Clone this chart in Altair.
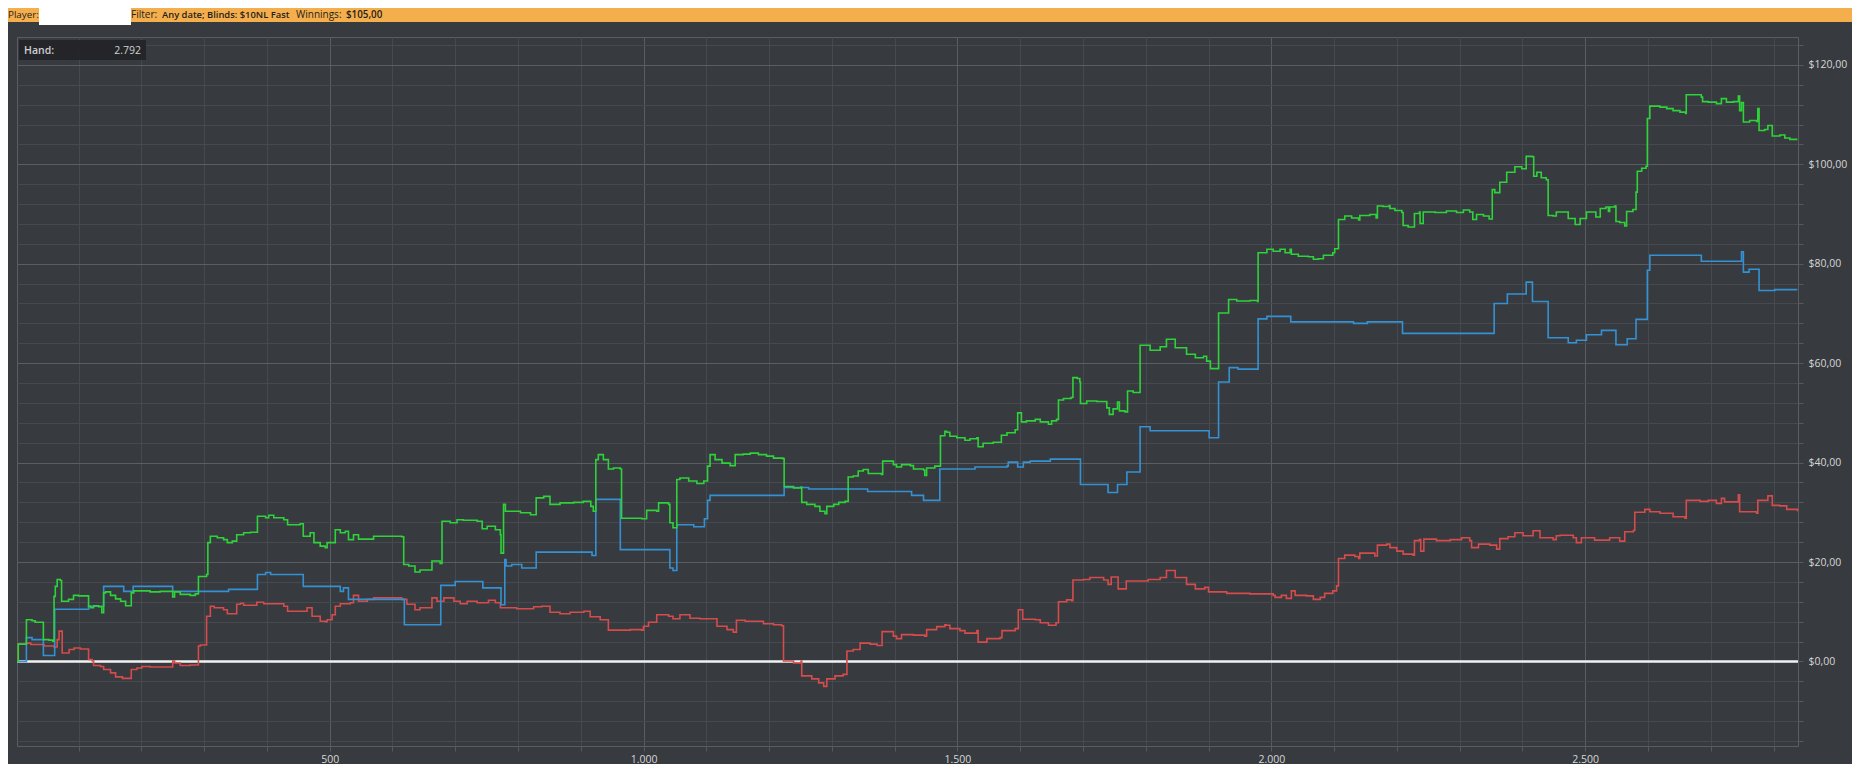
import altair as alt
import pandas as pd

# ---------------- data ----------------
GREEN_HANDS = [2, 4, 17, 26, 31, 44, 53, 59, 61, 63, 66, 71, 73, 84, 92, 100, 116, 119, 124, 132, 137, 140, 143, 151, 159, 167, 175, 184, 188, 214, 230, 250, 253, 262, 278, 286, 291, 304, 306, 310, 321, 331, 337, 345, 352, 363, 374, 385, 398, 403, 411, 427, 433, 453, 458, 469, 475, 485, 493,
               496, 509, 517, 525, 530, 538, 546, 570, 615, 618, 626, 636, 644, 663, 676, 679, 692, 703, 713, 735, 743, 751, 764, 772, 773, 777, 780, 804, 820, 829, 841, 851, 867, 889, 904, 916, 920, 924, 928, 936, 944, 952, 963, 965,
               997, 1005, 1021, 1024, 1040, 1042, 1047, 1053, 1058, 1072, 1085, 1096, 1102, 1106, 1114, 1125, 1138, 1146, 1159, 1170, 1183, 1196, 1207, 1222, 1224, 1239, 1251, 1252, 1260, 1273, 1281, 1289, 1292, 1303, 1311, 1321, 1326, 1334, 1342, 1350, 1358, 1379, 1381, 1398, 1403, 1411, 1425, 1430, 1446, 1448, 1451, 1464, 1473, 1480,
               1483, 1488, 1499, 1512, 1520, 1531, 1533, 1541, 1557, 1570, 1579, 1592, 1596, 1602, 1610, 1624, 1632, 1645, 1650, 1658, 1661, 1669, 1681, 1684, 1691, 1695, 1696, 1706, 1722, 1738, 1742, 1748, 1755, 1758, 1767, 1771, 1780, 1791, 1807, 1823, 1833, 1847, 1865, 1879, 1892, 1897, 1903, 1916, 1932, 1945, 1966, 1978,
               1979, 1993, 2003, 2014, 2022, 2030, 2032, 2043, 2059, 2067, 2075, 2083, 2098, 2101, 2107, 2117, 2128, 2139, 2141, 2157, 2167, 2169, 2178, 2188, 2189, 2197, 2208, 2210, 2218, 2228, 2236, 2237, 2242, 2261, 2279, 2295, 2306, 2316, 2321, 2327, 2338, 2347, 2352, 2356, 2364, 2375, 2388, 2399, 2406, 2416, 2418, 2423, 2430, 2438, 2441, 2449, 2454,
               2460, 2473, 2484, 2492, 2502, 2517, 2524, 2533, 2537, 2539, 2547, 2549, 2555, 2563, 2566, 2576, 2581, 2583, 2590, 2597, 2599, 2603, 2619, 2630, 2640, 2651, 2660, 2661, 2675, 2685, 2687, 2696, 2709, 2717, 2725, 2736, 2744, 2746, 2749, 2752, 2762, 2773, 2775, 2777, 2786, 2791, 2798, 2810, 2818, 2826, 2838]
GREEN_VALUES = [0, 3.5, 8.4, 8.2, 7.9, 4.4, 4.3, 4.1, 13.1, 15.1, 16.5, 16.3, 12.1, 12.5, 13.3, 13.2, 11.1, 10.8, 11.2, 11.0, 9.8, 13.8, 14.0, 13.3, 12.6, 12.1, 11.2, 13.8, 14.2, 14.0, 14.1, 13.0, 14.0, 13.5, 13.3, 13.6, 17.1, 17.5, 23.9, 25.2, 24.9, 24.5, 23.9, 24.2, 25.5, 25.9, 26.0, 29.2, 28.9, 29.4, 28.9, 28.5, 27.5, 27.7, 25.2, 25.9, 23.9, 23.2, 22.9,
                23.9, 26.5, 25.9, 26.2, 24.5, 25.5, 24.6, 25.2, 25.1, 19.5, 19.2, 18.0, 18.4, 20.2, 19.7, 28.2, 27.9, 28.5, 28.4, 28.2, 26.7, 27.2, 26.5, 25.5, 21.8, 31.6, 30.2, 29.9, 29.5, 32.9, 33.2, 31.6, 31.9, 32.0, 32.2, 31.2, 30.2, 40.6, 41.6, 40.6, 38.7, 38.9, 38.7, 28.8,
                28.7, 30.4, 30.2, 31.9, 31.6, 27.9, 26.9, 36.6, 36.9, 36.3, 35.8, 36.3, 39.3, 41.6, 40.6, 39.9, 39.4, 41.6, 41.7, 41.9, 41.6, 41.3, 40.9, 40.8, 35.2, 34.9, 35.1, 32.0, 31.6, 31.2, 30.2, 29.7, 31.2, 31.6, 32.0, 32.2, 37.1, 37.3, 38.3, 38.6, 37.8, 37.6, 40.3, 39.6, 39.1, 39.6, 39.4, 38.7, 38.5, 37.4, 38.9, 39.3, 45.4, 46.3,
                46.1, 45.3, 45.0, 44.5, 44.8, 45.0, 43.2, 43.9, 44.1, 45.5, 46.0, 46.6, 50.0, 48.2, 48.4, 48.7, 48.2, 47.7, 48.4, 48.7, 52.6, 52.9, 53.1, 57.1, 56.9, 56.2, 51.9, 52.4, 52.3, 51.0, 49.7, 50.8, 52.2, 50.4, 50.2, 54.4, 54.1, 63.6, 62.6, 63.3, 64.8, 63.1, 61.8, 61.1, 61.4, 60.4, 58.9, 70.1, 72.8, 72.5, 72.6, 72.4,
                82.2, 82.9, 82.5, 82.9, 82.2, 82.9, 81.9, 81.5, 81.4, 80.9, 81.0, 81.7, 82.2, 83.0, 88.9, 89.6, 89.2, 88.8, 89.7, 89.9, 89.2, 91.6, 91.5, 91.7, 91.1, 90.7, 90.3, 87.7, 87.4, 90.1, 90.4, 88.1, 90.4, 90.3, 90.6, 90.3, 90.8, 90.4, 88.9, 89.9, 89.6, 89.0, 94.9, 94.3, 96.4, 98.4, 99.5, 99.1, 101.6, 101.5, 97.6, 98.4, 97.3, 96.9, 89.7, 89.6, 90.4,
                90.4, 89.1, 87.9, 89.1, 90.4, 89.4, 91.1, 91.4, 90.5, 91.4, 91.6, 88.5, 88.3, 87.6, 90.5, 90.9, 94.4, 98.6, 99.2, 99.6, 109.2, 111.7, 111.5, 111.2, 110.8, 110.5, 110.2, 114.0, 114.0, 113.5, 112.6, 112.5, 112.2, 113.2, 112.5, 112.6, 113.7, 110.8, 112.4, 108.5, 108.8, 108.6, 111.2, 106.8, 107.0, 107.8, 105.7, 105.9, 105.3, 105.0, 105.0]

BLUE_HANDS = [2, 17, 26, 44, 62, 116, 140, 172, 187, 250, 339, 385, 398, 406, 458,
              517, 522, 530, 619, 677, 700, 744, 773, 779, 781, 790, 806, 829, 918, 924, 963,
              1042, 1047, 1053, 1080, 1097, 1102, 1106, 1224, 1263, 1357, 1427, 1446, 1472,
              1528, 1579, 1581, 1596, 1605, 1616, 1648, 1696, 1740, 1755, 1770, 1791, 1807, 1901, 1916, 1933, 1947, 1979,
              1993, 2031, 2131, 2153, 2209, 2355, 2376, 2406, 2416, 2441, 2473,
              2486, 2502, 2526, 2549, 2567, 2581, 2599, 2603, 2685, 2749, 2752, 2761, 2777, 2802, 2838]
BLUE_VALUES = [0, 4.8, 4.4, 1.2, 10.5, 11.1, 15.1, 14.1, 15.1, 14.1, 14.5, 17.5, 17.9, 17.5, 15.1,
               14.1, 14.8, 12.5, 7.4, 15.3, 16.1, 14.8, 11.4, 20.5, 19.2, 19.5, 18.8, 22.0, 21.3, 32.6, 22.5,
               18.8, 18.3, 27.5, 27.1, 28.7, 32.4, 33.4, 35.0, 34.7, 34.2, 33.4, 32.4, 38.7,
               39.1, 39.3, 40.1, 39.1, 40.1, 40.3, 40.7, 35.6, 34.0, 35.6, 38.1, 47.2, 46.4, 45.0, 56.2, 59.1, 58.8, 68.9,
               69.4, 68.3, 68.0, 68.3, 66.0, 72.0, 73.9, 76.3, 72.4, 65.1, 64.1,
               64.6, 65.7, 66.6, 63.7, 64.9, 68.8, 78.7, 81.7, 80.5, 82.4, 78.3, 78.9, 74.6, 74.8, 74.8]

RED_HANDS = [2, 4, 17, 24, 45, 61, 66, 69, 74, 85, 93, 103, 116, 122, 124, 135, 140, 151, 159, 170, 184, 193, 201, 214, 250, 253, 262, 278, 291, 294, 304, 310, 316, 331, 337, 352, 358, 363, 384, 395, 427, 433, 464, 472, 485, 493,
             496, 504, 509, 517, 533, 538, 546, 560, 570, 615, 623, 636, 644, 663, 671, 682, 698, 708, 719, 735, 753, 764, 772, 798, 825, 838, 851, 867, 883, 905, 915, 931, 944, 979,
             997, 1000, 1008, 1021, 1040, 1047, 1058, 1074, 1090, 1117, 1133, 1143, 1148, 1162, 1191, 1207, 1220, 1223, 1239, 1251, 1252, 1268, 1279, 1287, 1292, 1305, 1318, 1324, 1334, 1345, 1361, 1372, 1380, 1398, 1403, 1411, 1430, 1448, 1451, 1467, 1480,
             1482, 1488, 1504, 1512, 1531, 1533, 1547, 1568, 1571, 1592, 1597, 1604, 1624, 1632, 1645, 1657, 1661, 1674, 1682, 1684, 1701, 1711, 1733, 1740, 1745, 1756, 1769, 1794, 1804, 1823, 1833, 1847, 1865, 1879, 1894, 1900, 1929, 1955,
             1966, 2003, 2006, 2016, 2024, 2032, 2038, 2056, 2067, 2078, 2085, 2098, 2104, 2107, 2117, 2133, 2139, 2141, 2157, 2165, 2169, 2184, 2189, 2200, 2210, 2226, 2228, 2236, 2238, 2243, 2263, 2285, 2303, 2316, 2319, 2330, 2348, 2359, 2364, 2377, 2388, 2401, 2417, 2428, 2449, 2454,
             2460, 2481, 2486, 2494, 2515, 2539, 2555, 2563, 2577, 2579, 2595, 2603, 2619, 2640, 2659, 2661, 2683, 2696, 2709, 2717, 2722, 2744, 2746, 2773, 2775, 2791, 2798, 2810, 2821, 2838]
RED_VALUES = [0, 3.5, 3.7, 3.4, 3.1, 2.9, 4.4, 6.1, 1.7, 2.4, 2.7, 2.5, 0.4, 0.1, -0.8, -1.0, -1.6, -2.3, -3.1, -3.4, -1.6, -1.3, -1.0, -1.1, 0.1, -0.3, -0.8, -0.7, 3.1, 3.3, 9.1, 11.1, 10.8, 10.4, 9.6, 11.5, 11.7, 11.3, 11.9, 11.6, 11.1, 10.1, 10.8, 9.1, 8.1, 8.0,
              8.4, 9.4, 11.1, 11.6, 11.8, 13.3, 12.1, 12.5, 12.8, 12.5, 11.5, 10.4, 10.8, 12.8, 12.1, 12.8, 12.1, 11.6, 12.1, 11.8, 12.3, 11.8, 10.8, 10.6, 11.0, 11.1, 9.9, 9.6, 9.9, 10.1, 9.0, 8.4, 6.3, 6.4,
              6.3, 7.1, 7.9, 9.4, 9.1, 8.6, 9.4, 8.7, 8.6, 7.1, 6.4, 5.9, 8.3, 8.1, 7.6, 7.4, 7.2, 0.1, -0.3, 0.1, -2.9, -3.5, -4.3, -5.0, -3.5, -2.9, -2.6, 2.1, 2.4, 3.7, 3.5, 3.2, 6.0, 5.1, 4.6, 5.4, 5.3, 5.1, 6.4, 7.0, 7.4,
              7.3, 6.6, 6.2, 5.7, 6.2, 3.9, 4.6, 4.8, 6.2, 6.6, 10.4, 8.5, 8.4, 7.8, 7.3, 7.8, 12.0, 12.4, 12.2, 16.4, 16.5, 16.9, 16.4, 15.5, 17.0, 14.6, 16.2, 16.2, 16.5, 16.9, 18.3, 16.9, 15.5, 14.6, 14.9, 14.0, 13.7, 13.7,
              13.6, 13.3, 12.9, 13.3, 12.7, 14.2, 13.3, 13.2, 12.5, 12.9, 13.7, 14.2, 15.2, 20.7, 21.4, 21.1, 20.7, 21.8, 21.8, 21.2, 23.4, 23.6, 22.9, 22.2, 21.6, 21.4, 24.3, 24.5, 22.2, 24.6, 24.3, 24.5, 24.9, 24.3, 22.9, 23.6, 23.4, 22.6, 24.7, 25.1, 25.9, 25.3, 26.3, 24.9, 24.5, 25.3,
              25.4, 24.9, 23.9, 24.9, 24.4, 24.9, 24.2, 26.1, 26.4, 30.0, 30.6, 30.1, 29.8, 29.1, 28.8, 32.4, 32.2, 32.4, 31.8, 32.8, 32.1, 33.5, 30.1, 29.8, 32.4, 33.3, 31.4, 31.3, 30.6, 30.2]

X_TICKS = [100, 200, 300, 400, 500, 600, 700, 800, 900, 1000, 1100, 1200, 1300, 1400, 1500, 1600, 1700, 1800, 1900, 2000, 2100, 2200, 2300, 2400, 2500, 2600, 2700, 2800]
Y_TICKS = [-16, -12, -8, -4, 0, 4, 8, 12, 16, 20, 24, 28, 32, 36, 40, 44, 48, 52, 56, 60, 64, 68, 72, 76, 80, 84, 88, 92, 96, 100, 104, 108, 112, 116, 120, 124]
X_DOMAIN = [2, 2839]
Y_DOMAIN = [-17, 125.6]
ZERO = [0]

HEADER_LABELS = ["Player:", "Filter:", "Winnings:"]
HEADER_VALUES = ["Any date; Blinds: $10NL Fast", "$105,00"]
HAND_LABEL = ["Hand:"]
HAND_VALUE = ["2.792"]

# ---------------- styling ----------------
BG = "#373a3e"
FONT = "Open Sans"
W, H = 1781, 709

x_scale = alt.Scale(domain=X_DOMAIN, nice=False, zero=False)
y_scale = alt.Scale(domain=Y_DOMAIN, nice=False, zero=False)

x_axis = alt.Axis(
    values=X_TICKS, title=None, domain=False, grid=True,
    gridColor={"condition": {"test": "datum.value % 500 === 0", "value": "#5a5d61"}, "value": "#46494d"},
    gridWidth=1, tickColor="#55585c", tickSize=5,
    labelExpr="datum.value % 500 === 0 ? replace(format(datum.value, ','), ',', '.') : ''",
    labelColor="#d6d6d6", labelFont=FONT, labelFontSize=10.5, labelPadding=3,
    labelOverlap=False, labelFlush=False,
)
y_axis = alt.Axis(
    values=Y_TICKS, title=None, orient="right", domain=False, grid=True,
    gridColor={"condition": {"test": "datum.value % 20 === 0", "value": "#5a5d61"}, "value": "#46494d"},
    gridWidth=1, tickColor="#55585c", tickSize=5,
    labelExpr="datum.value % 20 === 0 ? '$' + replace(format(datum.value, '.2f'), '.', ',') : ''",
    labelColor="#d6d6d6", labelFont=FONT, labelFontSize=10.5, labelPadding=5,
    labelOverlap=False, labelFlush=False,
)

X_ENC = alt.X("hand:Q", scale=x_scale, axis=x_axis)
Y_ENC = alt.Y("value:Q", scale=y_scale, axis=y_axis)


def series_df(hands, values):
    return pd.DataFrame({"hand": hands, "value": values})


def line(df, color):
    return alt.Chart(df).mark_line(
        interpolate="step-after", color=color, strokeWidth=1.6
    ).encode(x=X_ENC, y=Y_ENC)


zero_line = alt.Chart(pd.DataFrame({"value": ZERO})).mark_rule(
    color="#f2f2f2", strokeWidth=2.5
).encode(y=Y_ENC)

red = line(series_df(RED_HANDS, RED_VALUES), "#d64b4b")
blue = line(series_df(BLUE_HANDS, BLUE_VALUES), "#3492d4")
green = line(series_df(GREEN_HANDS, GREEN_VALUES), "#2fd23a")

one = pd.DataFrame({"k": [0]})

# header bar
bar = alt.Chart(one).mark_rect(color="#f5ae4c").encode(
    x=alt.value(-14), x2=alt.value(1850), y=alt.value(-34), y2=alt.value(-15))
name_box = alt.Chart(one).mark_rect(color="#ffffff").encode(
    x=alt.value(22), x2=alt.value(114), y=alt.value(-32), y2=alt.value(-12))


def header_text(txt, x, size=10, bold=False):
    return alt.Chart(pd.DataFrame({"t": [txt]})).mark_text(
        align="left", baseline="middle", font=FONT, fontSize=size,
        fontWeight=600 if bold else "normal", color="#1e1e1e"
    ).encode(text="t:N", x=alt.value(x), y=alt.value(-22))


t_player = header_text(HEADER_LABELS[0], -9, size=9.8)
t_filter = header_text(HEADER_LABELS[1], 114)
t_filter_val = header_text(HEADER_VALUES[0], 145, size=9.4, bold=True)
t_win = header_text(HEADER_LABELS[2], 279)
t_win_val = header_text(HEADER_VALUES[1], 329, size=9.8, bold=True)

# hand box
hand_box = alt.Chart(one).mark_rect(color="#222427", opacity=0.92).encode(
    x=alt.value(2), x2=alt.value(129), y=alt.value(3), y2=alt.value(23))
hand_lbl = alt.Chart(pd.DataFrame({"t": HAND_LABEL})).mark_text(
    align="left", baseline="middle", font=FONT, fontSize=10.5, fontWeight=600, color="#d0d0d0"
).encode(text="t:N", x=alt.value(7), y=alt.value(13.5))
hand_val = alt.Chart(pd.DataFrame({"t": HAND_VALUE})).mark_text(
    align="right", baseline="middle", font=FONT, fontSize=10.5, color="#d0d0d0"
).encode(text="t:N", x=alt.value(124), y=alt.value(13.5))

chart = alt.layer(
    zero_line, red, blue, green,
    bar, t_player, name_box, t_filter, t_filter_val, t_win, t_win_val,
    hand_box, hand_lbl, hand_val,
).properties(
    width=W, height=H,
    padding={"left": 9, "top": 29, "right": 54, "bottom": 18},
    autosize=alt.AutoSizeParams(type="none"),
    background=BG,
).configure_view(
    stroke="#5a5d61", strokeWidth=1, fill=BG
)

chart.save("out.html", embed_options={"renderer": "svg", "actions": False})
